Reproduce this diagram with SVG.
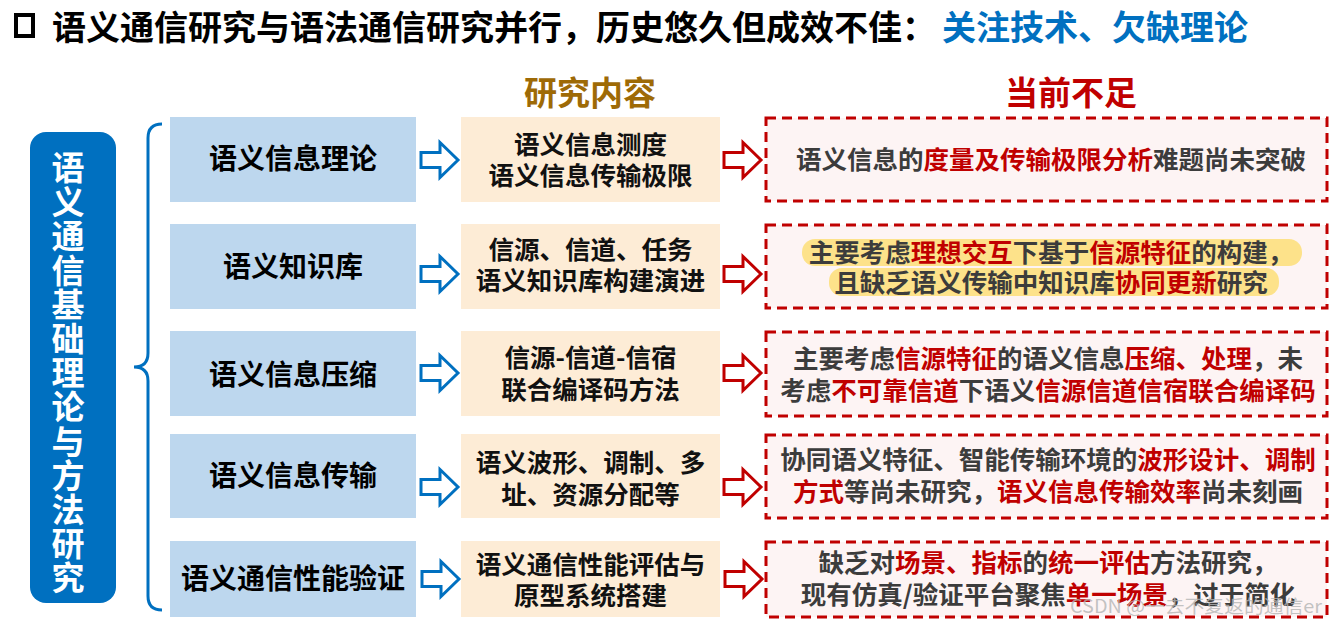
<svg xmlns="http://www.w3.org/2000/svg" xmlns:xlink="http://www.w3.org/1999/xlink" width="1336" height="624" viewBox="0 0 1336 624">
<style>
  text { font-family: 'Noto Sans CJK SC', 'Noto Sans', sans-serif; font-weight: bold; }
  .title { font-size: 34px; fill: #000; }
  .blue { fill: #0070c0; }
  .hdr1 { font-size: 33px; fill: #9e6a06; text-anchor: middle; }
  .hdr2 { font-size: 33px; fill: #c00000; text-anchor: middle; }
  .vt { font-size: 33px; fill: #fff; writing-mode: vertical-rl; letter-spacing: 1.2px; }
  .lbox { fill: #bdd7ee; }
  .mbox { fill: #fdecd6; }
  .rbox { fill: #fdf4f4; stroke: #c00000; stroke-width: 3; stroke-dasharray: 10 6; }
  .lt { font-size: 28px; fill: #000; text-anchor: middle; }
  .mt { font-size: 25.5px; fill: #111; text-anchor: middle; }
  .rt { font-size: 25.5px; fill: #3c3c3c; text-anchor: middle; }
  .r { fill: #c00000; }
  .hl { fill: #fde28a; }
  .barr { fill: #fff; stroke: #0070c0; stroke-width: 3; stroke-linejoin: miter; }
  .rarr { fill: #fff; stroke: #c00000; stroke-width: 3; stroke-linejoin: miter; }
  .wm { font-family: 'Noto Sans CJK SC', sans-serif; font-weight: normal; font-size: 18px; fill: #b4b4b4; fill-opacity: 0.8; }
</style>
<defs>
  <path id="arr" d="M0,-7.5 H19 V-17.5 L37,0 L19,17.5 V7.5 H0 Z"/>
</defs>

<g id="title">
  <rect x="16" y="15" width="17" height="21" fill="none" stroke="#000" stroke-width="4"/>
  <text class="title" x="52" y="40">语义通信研究与语法通信研究并行，历史悠久但成效不佳：</text>
  <text class="title blue" x="942" y="40">关注技术、欠缺理论</text>
</g>

<g id="headers">
  <text class="hdr1" x="590" y="105">研究内容</text>
  <text class="hdr2" x="1071" y="105">当前不足</text>
</g>

<g id="main-label">
  <rect x="30" y="132" width="86" height="471" rx="16" ry="16" fill="#0070c0"/>
  <text class="vt" x="68" y="151">语义通信基础理论与方法研究</text>
</g>

<g id="connectors">
  <path id="brace" d="M162,124 Q148,124 148,138 V353 Q148,367 134,367 Q148,367 148,381 V596 Q148,610 162,610" fill="none" stroke="#0070c0" stroke-width="3"/>
  <use xlink:href="#arr" href="#arr" class="barr" x="421" y="160"/>
  <use xlink:href="#arr" href="#arr" class="barr" x="421" y="274"/>
  <use xlink:href="#arr" href="#arr" class="barr" x="421" y="373"/>
  <use xlink:href="#arr" href="#arr" class="barr" x="421" y="487"/>
  <use xlink:href="#arr" href="#arr" class="barr" x="422" y="579"/>
  <use xlink:href="#arr" href="#arr" class="rarr" x="724" y="160"/>
  <use xlink:href="#arr" href="#arr" class="rarr" x="724" y="274"/>
  <use xlink:href="#arr" href="#arr" class="rarr" x="724" y="373"/>
  <use xlink:href="#arr" href="#arr" class="rarr" x="724" y="487"/>
  <use xlink:href="#arr" href="#arr" class="rarr" x="725" y="579"/>
</g>

<g id="topic-1">
  <rect class="lbox" x="170" y="117" width="246" height="85"/>
  <text class="lt" x="293" y="169">语义信息理论</text>
</g>
<g id="topic-2">
  <rect class="lbox" x="170" y="224" width="246" height="85"/>
  <text class="lt" x="293" y="277">语义知识库</text>
</g>
<g id="topic-3">
  <rect class="lbox" x="170" y="331" width="246" height="85"/>
  <text class="lt" x="293" y="385">语义信息压缩</text>
</g>
<g id="topic-4">
  <rect class="lbox" x="170" y="434" width="246" height="84"/>
  <text class="lt" x="293" y="486">语义信息传输</text>
</g>
<g id="topic-5">
  <rect class="lbox" x="170" y="541" width="246" height="76"/>
  <text class="lt" x="293" y="589">语义通信性能验证</text>
</g>

<g id="content-1">
  <rect class="mbox" x="461" y="117" width="259" height="85"/>
  <text class="mt" x="590.5" y="154">语义信息测度</text>
  <text class="mt" x="590.5" y="185">语义信息传输极限</text>
</g>
<g id="content-2">
  <rect class="mbox" x="461" y="224" width="259" height="85"/>
  <text class="mt" x="590.5" y="259">信源、信道、任务</text>
  <text class="mt" x="590.5" y="290">语义知识库构建演进</text>
</g>
<g id="content-3">
  <rect class="mbox" x="461" y="331" width="259" height="85"/>
  <text class="mt" x="590.5" y="367">信源-信道-信宿</text>
  <text class="mt" x="590.5" y="399">联合编译码方法</text>
</g>
<g id="content-4">
  <rect class="mbox" x="461" y="434" width="259" height="84"/>
  <text class="mt" x="590.5" y="472">语义波形、调制、多</text>
  <text class="mt" x="590.5" y="504">址、资源分配等</text>
</g>
<g id="content-5">
  <rect class="mbox" x="461" y="541" width="259" height="76"/>
  <text class="mt" x="590.5" y="574">语义通信性能评估与</text>
  <text class="mt" x="590.5" y="605">原型系统搭建</text>
</g>

<g id="gap-1">
  <rect class="rbox" x="766" y="118" width="561" height="83"/>
  <text class="rt" x="1051" y="169">语义信息的<tspan class="r">度量及传输极限分析</tspan>难题尚未突破</text>
</g>
<g id="gap-2">
  <rect class="rbox" x="766" y="225" width="561" height="83"/>
  <rect class="hl" x="802" y="239" width="500" height="27" rx="13"/>
  <rect class="hl" x="829" y="268" width="450" height="28" rx="13"/>
  <text class="rt" x="1051" y="261.5">主要考虑<tspan class="r">理想交互</tspan>下基于<tspan class="r">信源特征</tspan>的构建，</text>
  <text class="rt" x="1051" y="291.5">且缺乏语义传输中知识库<tspan class="r">协同更新</tspan>研究</text>
</g>
<g id="gap-3">
  <rect class="rbox" x="766" y="332" width="561" height="84"/>
  <text class="rt" x="1048" y="368">主要考虑<tspan class="r">信源特征</tspan>的语义信息<tspan class="r">压缩、处理</tspan>，未</text>
  <text class="rt" x="1048" y="400">考虑<tspan class="r">不可靠信道</tspan>下语义<tspan class="r">信源信道信宿联合编译码</tspan></text>
</g>
<g id="gap-4">
  <rect class="rbox" x="766" y="435" width="561" height="83"/>
  <text class="rt" x="1048" y="469">协同语义特征、智能传输环境的<tspan class="r">波形设计、调制</tspan></text>
  <text class="rt" x="1048" y="501"><tspan class="r">方式</tspan>等尚未研究，<tspan class="r">语义信息传输效率</tspan>尚未刻画</text>
</g>
<g id="gap-5">
  <rect class="rbox" x="766" y="542" width="561" height="75"/>
  <text class="rt" x="1048" y="572">缺乏对<tspan class="r">场景、指标</tspan>的<tspan class="r">统一评估</tspan>方法研究，</text>
  <text class="rt" x="1048" y="604">现有仿真/验证平台聚焦<tspan class="r">单一场景</tspan>，过于简化</text>
</g>

<text class="wm" x="1070" y="613" textLength="252" lengthAdjust="spacingAndGlyphs">CSDN @一去不复返的通信er</text>
</svg>
